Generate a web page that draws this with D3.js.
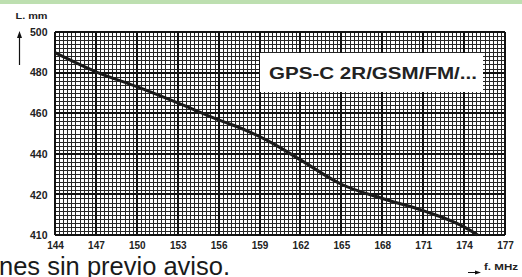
<!DOCTYPE html>
<html>
<head>
<meta charset="utf-8">
<script src="https://d3js.org/d3.v7.min.js"></script>
<style>
  body { margin: 0; background: #fff; }
  svg { display: block; font-family: "Liberation Sans", Arial, sans-serif; }
</style>
</head>
<body>
<svg width="522" height="277"></svg>
<script>
// data
var freq = [144, 147, 150, 153, 156, 158, 160, 162, 165, 168, 171, 174, 175];
var length = [489.8, 480.4, 473.1, 465.1, 456.7, 451.6, 445, 437, 425, 418, 412, 404, 400];
var xTicks = [144, 147, 150, 153, 156, 159, 162, 165, 168, 171, 174, 177];
var yTicks = [500, 480, 460, 440, 420, 400];
var yTickLabels = ["500", "480", "460", "440", "420", "410"];

var svg = d3.select("svg");
var x = d3.scaleLinear().domain([144, 177]).range([55, 505]);
var y = d3.scaleLinear().domain([400, 500]).range([235, 32]);

// green band at top
svg.append("rect").attr("x", 0).attr("y", 0).attr("width", 522).attr("height", 4)
    .style("fill", "#bddfb0");

// grid
var g = svg.append("g").attr("shape-rendering", "crispEdges");
g.append("rect").attr("x", x(144)).attr("y", y(500))
    .attr("width", x(177) - x(144)).attr("height", y(400) - y(500))
    .style("fill", "#fff");

var minorX = d3.range(0, 111).map(function (i) { return 144 + i * 0.3; });
var minorY = d3.range(400, 501, 2);

g.selectAll("line.vminor").data(minorX).enter().append("line")
    .attr("class", "vminor")
    .attr("x1", function (d) { return Math.round(x(d)) + 0.5; })
    .attr("x2", function (d) { return Math.round(x(d)) + 0.5; })
    .attr("y1", y(500)).attr("y2", y(400))
    .style("stroke", "#262626").style("stroke-width", 1);

g.selectAll("line.hminor").data(minorY).enter().append("line")
    .attr("class", "hminor")
    .attr("y1", function (d) { return Math.round(y(d)) + 0.5; })
    .attr("y2", function (d) { return Math.round(y(d)) + 0.5; })
    .attr("x1", x(144)).attr("x2", x(177))
    .style("stroke", "#262626").style("stroke-width", 1);

g.selectAll("line.vmajor").data(xTicks).enter().append("line")
    .attr("class", "vmajor")
    .attr("x1", function (d) { return Math.round(x(d)); })
    .attr("x2", function (d) { return Math.round(x(d)); })
    .attr("y1", y(500)).attr("y2", y(400))
    .style("stroke", "#111").style("stroke-width", 2);

g.selectAll("line.hmajor").data(yTicks).enter().append("line")
    .attr("class", "hmajor")
    .attr("y1", function (d) { return Math.round(y(d)); })
    .attr("y2", function (d) { return Math.round(y(d)); })
    .attr("x1", x(144)).attr("x2", x(177))
    .style("stroke", "#111").style("stroke-width", 2);

// curve
var line = d3.line()
    .x(function (d) { return x(d[0]); })
    .y(function (d) { return y(d[1]); })
    .curve(d3.curveMonotoneX);

svg.append("path")
    .datum(d3.zip(freq, length))
    .attr("d", line)
    .style("fill", "none")
    .style("stroke", "#1a1a1a")
    .style("stroke-width", 3);

// label box
svg.append("rect").attr("x", 260).attr("y", 53).attr("width", 223).attr("height", 39)
    .style("fill", "#fff");
svg.append("text").attr("x", 269).attr("y", 79)
    .attr("textLength", 208).attr("lengthAdjust", "spacingAndGlyphs")
    .style("font-size", "16.5px").style("font-weight", "bold").style("fill", "#222")
    .text("GPS-C 2R/GSM/FM/...");

// axes (labels only)
var xAxis = d3.axisBottom(x).tickValues(xTicks).tickSize(0).tickPadding(7)
    .tickFormat(d3.format("d"));
var xa = svg.append("g").attr("transform", "translate(0," + y(400) + ")").call(xAxis);
xa.select(".domain").remove();
xa.selectAll("text").style("font-size", "10px").style("font-weight", "bold")
    .style("fill", "#222").style("font-family", "Liberation Sans, Arial, sans-serif");

var yAxis = d3.axisLeft(y).tickValues(yTicks).tickSize(0).tickPadding(7.5)
    .tickFormat(function (d, i) { return yTickLabels[i]; });
var ya = svg.append("g").attr("transform", "translate(" + x(144) + ",0)").call(yAxis);
ya.select(".domain").remove();
ya.selectAll("text").style("font-size", "10.5px").style("font-weight", "bold")
    .style("fill", "#222").style("font-family", "Liberation Sans, Arial, sans-serif");
// the picture puts its labels on a slightly shorter pitch than the grid
ya.selectAll(".tick").attr("transform", function (d, i) {
    var pos = [33, 73, 114, 155, 196, 236];
    return "translate(0," + pos[i] + ")";
});

// axis titles and arrows
svg.append("text").attr("x", 15.5).attr("y", 19)
    .attr("textLength", 32).attr("lengthAdjust", "spacingAndGlyphs")
    .style("font-size", "9.5px").style("font-weight", "bold").style("fill", "#222")
    .text("L. mm");
svg.append("line").attr("x1", 19.5).attr("x2", 19.5).attr("y1", 36).attr("y2", 65)
    .style("stroke", "#111").style("stroke-width", 1.2);
svg.append("path").attr("d", "M19.5,31L17,38L22,38Z").style("fill", "#111");

svg.append("text").attr("x", 484).attr("y", 270)
    .attr("textLength", 34).attr("lengthAdjust", "spacingAndGlyphs")
    .style("font-size", "9.5px").style("font-weight", "bold").style("fill", "#222")
    .text("f. MHz");
svg.append("line").attr("x1", 468).attr("x2", 476).attr("y1", 272.5).attr("y2", 272.5)
    .style("stroke", "#111").style("stroke-width", 1);
svg.append("path").attr("d", "M481,272.5L475,270.5L475,274.5Z").style("fill", "#111");

// cut-off page text at the bottom
svg.append("text").attr("x", -1).attr("y", 275)
    .style("font-size", "25.5px").style("fill", "#1a1a1a")
    .text("nes sin previo aviso.");
</script>
</body>
</html>
